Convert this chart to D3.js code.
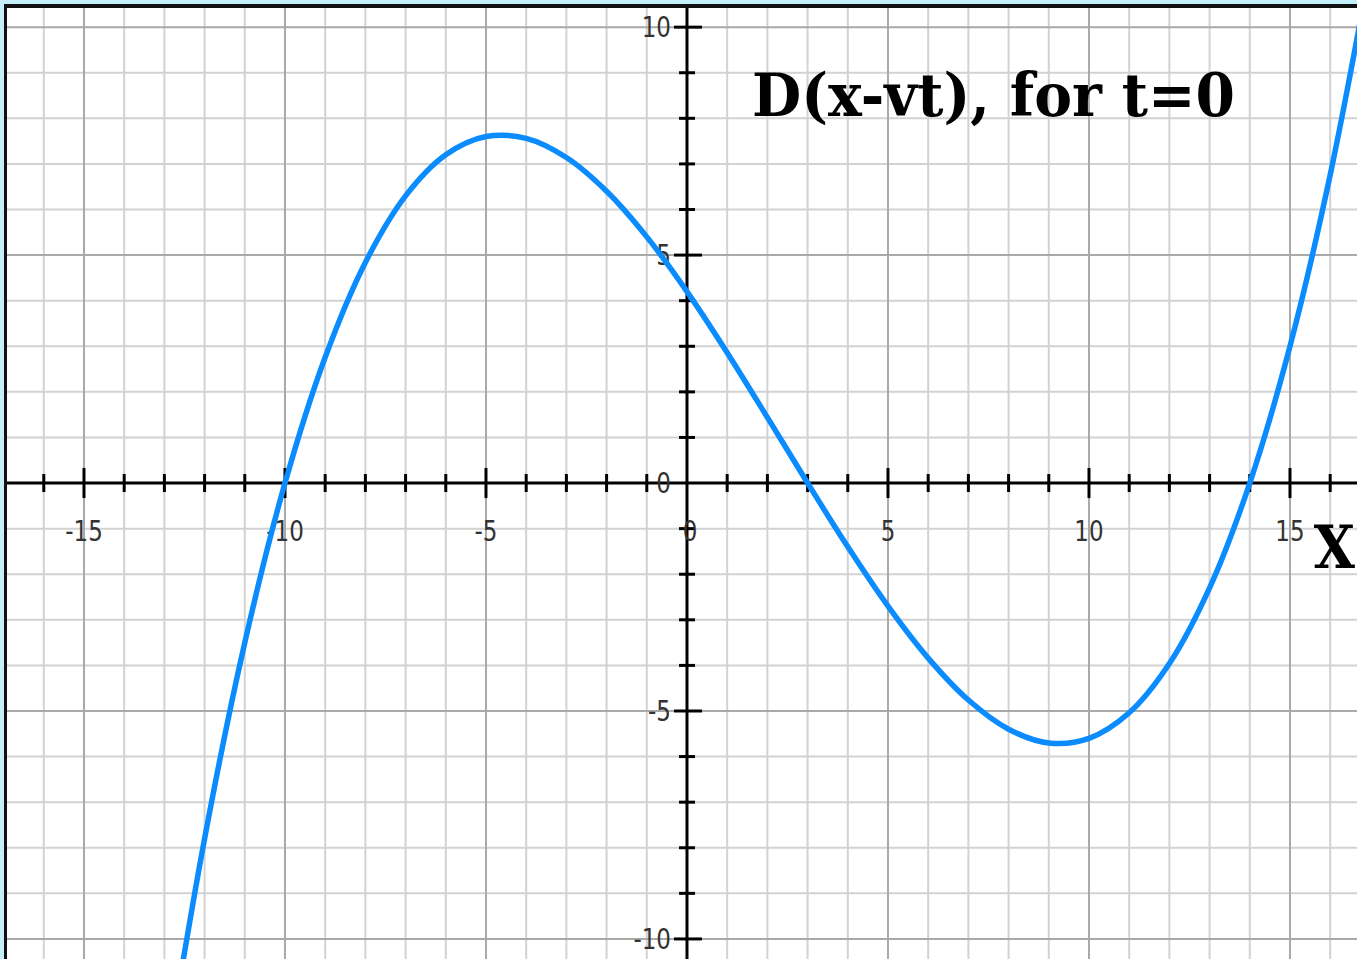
<!DOCTYPE html>
<html>
<head>
<meta charset="utf-8">
<script src="https://cdn.jsdelivr.net/npm/d3@7"></script>
<style>
  html, body { margin: 0; padding: 0; background: #c4eef8; overflow: hidden; }
  svg { display: block; }
</style>
</head>
<body>
<svg id="chart" width="1357" height="959"></svg>
<script>
// Wave profile D(x - vt) at t = 0, sampled along x
const xValues = [-13, -12, -11, -10, -9, -8, -7, -6, -5, -4, -3, -2, -1, 0, 1, 2, 3, 4, 5, 6, 7, 8, 9, 10, 11, 12, 13, 14, 15, 16, 17];
const dValues = [-12.96, -7.80, -3.50, 0.00, 2.76, 4.84, 6.30, 7.20, 7.60, 7.56, 7.14, 6.40, 5.40, 4.20, 2.86, 1.44, 0.00, -1.40, -2.70, -3.84, -4.76, -5.40, -5.70, -5.60, -5.04, -3.96, -2.30, 0.00, 3.00, 6.76, 11.34];

const xTickLabels = ["-15", "-10", "-5", "0", "5", "10", "15"];
const yTickLabels = ["-10", "-5", "0", "5", "10"];

const titleText = "D(x-vt), for t=0";
const axisName = "X";

const W = 1357, H = 959;
const plot = { left: 7, top: 8, right: W, bottom: H };

const x = d3.scaleLinear().domain([-16.915, 16.667]).range([plot.left, plot.right]);
const y = d3.scaleLinear().domain([-10.44, 10.42]).range([plot.bottom, plot.top]);

const svg = d3.select("#chart");

// frame and plotting surface
svg.append("rect").attr("x", 0).attr("y", 0).attr("width", W).attr("height", H).attr("fill", "#c4eef8");
svg.append("rect").attr("x", 4).attr("y", 4).attr("width", W).attr("height", H).attr("fill", "#111");
svg.append("rect").attr("x", plot.left).attr("y", plot.top)
  .attr("width", plot.right - plot.left).attr("height", plot.bottom - plot.top).attr("fill", "#ffffff");

const defs = svg.append("defs");
defs.append("clipPath").attr("id", "plotClip").append("rect")
  .attr("x", plot.left).attr("y", plot.top)
  .attr("width", plot.right - plot.left).attr("height", plot.bottom - plot.top);

const g = svg.append("g").attr("clip-path", "url(#plotClip)");

// grid: every unit, heavier every fifth unit
const xGrid = d3.range(-16, 17);
const yGrid = d3.range(-10, 11);

const isMajor = v => v % 5 === 0;

g.append("g").selectAll("line").data(xGrid.filter(v => !isMajor(v))).join("line")
  .attr("x1", d => x(d)).attr("x2", d => x(d)).attr("y1", plot.top).attr("y2", plot.bottom)
  .attr("stroke", "#d2d2d2").attr("stroke-width", 2);
g.append("g").selectAll("line").data(yGrid.filter(v => !isMajor(v))).join("line")
  .attr("y1", d => y(d)).attr("y2", d => y(d)).attr("x1", plot.left).attr("x2", plot.right)
  .attr("stroke", "#d2d2d2").attr("stroke-width", 2);
g.append("g").selectAll("line").data(xGrid.filter(v => isMajor(v) && v !== 0)).join("line")
  .attr("x1", d => x(d)).attr("x2", d => x(d)).attr("y1", plot.top).attr("y2", plot.bottom)
  .attr("stroke", "#a9a9a9").attr("stroke-width", 2);
g.append("g").selectAll("line").data(yGrid.filter(v => isMajor(v) && v !== 0)).join("line")
  .attr("y1", d => y(d)).attr("y2", d => y(d)).attr("x1", plot.left).attr("x2", plot.right)
  .attr("stroke", "#a9a9a9").attr("stroke-width", 2);

// axes through the origin
g.append("line").attr("x1", plot.left).attr("x2", plot.right).attr("y1", y(0)).attr("y2", y(0))
  .attr("stroke", "#000").attr("stroke-width", 3);
g.append("line").attr("x1", x(0)).attr("x2", x(0)).attr("y1", plot.top).attr("y2", plot.bottom)
  .attr("stroke", "#000").attr("stroke-width", 3);

// tick marks
g.append("g").selectAll("line").data(xGrid.filter(v => v !== 0)).join("line")
  .attr("x1", d => x(d)).attr("x2", d => x(d))
  .attr("y1", d => y(0) - (isMajor(d) ? 15 : 9)).attr("y2", d => y(0) + (isMajor(d) ? 15 : 9))
  .attr("stroke", "#000").attr("stroke-width", 3);
g.append("g").selectAll("line").data(yGrid.filter(v => v !== 0)).join("line")
  .attr("y1", d => y(d)).attr("y2", d => y(d))
  .attr("x1", d => x(0) - (isMajor(d) ? 13 : 8)).attr("x2", d => x(0) + (isMajor(d) ? 15 : 8))
  .attr("stroke", "#000").attr("stroke-width", 3);

// tick labels (tall, narrow sans)
const labelFont = "'DejaVu Sans', sans-serif";
const stretch = 1.25;
g.append("g").selectAll("text").data(xTickLabels).join("text")
  .attr("transform", d => `translate(${x(+d) + (+d === 0 ? 3 : 0)},${y(0) + 58}) scale(1,${stretch})`)
  .attr("text-anchor", "middle")
  .attr("font-family", labelFont).attr("font-size", 23).attr("fill", "#333")
  .text(d => d);
g.append("g").selectAll("text").data(yTickLabels).join("text")
  .attr("transform", d => `translate(${x(0) - 16},${y(+d) + 10}) scale(1,${stretch})`)
  .attr("text-anchor", "end")
  .attr("font-family", labelFont).attr("font-size", 23).attr("fill", "#333")
  .text(d => d);

// the curve
const pts = xValues.map((v, i) => [v, dValues[i]]);
g.append("path").datum(pts)
  .attr("d", d3.line().x(d => x(d[0])).y(d => y(d[1])).curve(d3.curveCatmullRom.alpha(0.5)))
  .attr("fill", "none").attr("stroke", "#0a8cff").attr("stroke-width", 5.5)
  .attr("stroke-linejoin", "round");

// title and axis name
const serif = "'DejaVu Serif', serif";
const title = g.append("text")
  .attr("font-family", serif).attr("font-weight", "bold").attr("font-size", 59)
  .attr("fill", "#000").text(titleText);
const tw = title.node().getComputedTextLength();
title.attr("transform", `translate(752,116) scale(${483 / tw},1)`);

// axis name placed so it ends just inside the right edge
const xName = g.append("text")
  .attr("font-family", serif).attr("font-weight", "bold").attr("font-size", 59)
  .attr("fill", "#000").text(axisName);
const xw = xName.node().getComputedTextLength() * 0.9;
xName.attr("transform", `translate(${Math.min(1316, W - 2 - xw)},568) scale(0.9,1)`);
</script>
</body>
</html>
